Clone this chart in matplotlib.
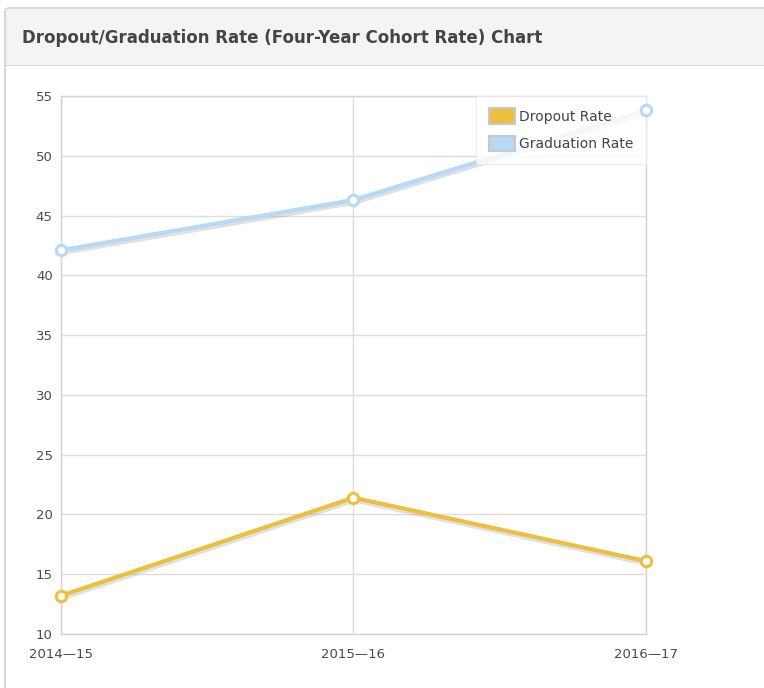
import matplotlib
matplotlib.use("Agg")
import matplotlib.pyplot as plt
import matplotlib.patheffects as pe
from matplotlib.patches import FancyBboxPatch, Rectangle
from matplotlib.lines import Line2D

categories = ["2014\u201415", "2015\u201416", "2016\u201417"]
dropout = [13.2, 21.4, 16.1]
graduation = [42.1, 46.3, 53.8]
series_names = ["Dropout Rate", "Graduation Rate"]
yticks = [10, 15, 20, 25, 30, 35, 40, 45, 50, 55]

W, H = 764, 688
fig = plt.figure(figsize=(W / 100, H / 100), dpi=100)
fig.patch.set_facecolor("white")

# panel frame
panel = FancyBboxPatch((5 / W, -0.05), 1.0, (688 - 8) / H + 0.05,
                       boxstyle="round,pad=0,rounding_size=0.006",
                       transform=fig.transFigure, facecolor="white",
                       edgecolor="#d0d0d0", linewidth=1.2, zorder=-2)
fig.patches.append(panel)
header = Rectangle((6 / W, (688 - 65) / H), 1.0, (65 - 9) / H,
                   transform=fig.transFigure, facecolor="#f4f4f4",
                   edgecolor="none", zorder=-1)
fig.patches.append(header)
fig.add_artist(Line2D([6 / W, 1], [(688 - 65) / H] * 2, transform=fig.transFigure,
                      color="#cfcfcf", linewidth=1.2, zorder=-1))
fig.text(22 / W, (688 - 38) / H, "Dropout/Graduation Rate (Four-Year Cohort Rate) Chart",
         fontsize=12, fontweight="bold", color="#444444", va="center", ha="left",
         family="DejaVu Sans")

ax = fig.add_axes([61 / W, (688 - 634) / H, (646 - 61) / W, (634 - 96) / H])
ax.set_zorder(3)
ax.patch.set_alpha(0)
x = list(range(len(categories)))
ax.set_xlim(0, len(categories) - 1)
ax.set_ylim(10, 55)
ax.set_yticks(yticks)
ax.set_xticks(x)
ax.set_xticklabels(categories)
ax.grid(True, color="#dddddd", linewidth=1)
ax.set_axisbelow(True)
for s in ax.spines.values():
    s.set_color("#d4d4d4")
    s.set_linewidth(1)
ax.tick_params(length=0, labelsize=9.5, colors="#4a4a4a", pad=6)
ax.tick_params(axis="x", pad=10)

shadow = [pe.SimpleLineShadow(offset=(0.5, -2), shadow_color="#999999", alpha=0.3),
          pe.Normal()]
colors = ["#ecbf3e", "#b5daf7"]
for vals, col, name in [(dropout, colors[0], series_names[0]),
                        (graduation, colors[1], series_names[1])]:
    ax.plot(x, vals, color=col, linewidth=3, label=name,
            path_effects=shadow, clip_on=False, zorder=3)
    ax.plot(x, vals, linestyle="none", marker="o", markersize=7.5,
            markerfacecolor="white", markeredgecolor=col, markeredgewidth=2.2,
            clip_on=False, zorder=6)

handles = [Rectangle((0, 0), 1, 1, facecolor=colors[0], edgecolor="#c8c8c8", linewidth=1.5),
           Rectangle((0, 0), 1, 1, facecolor=colors[1], edgecolor="#c8c8c8", linewidth=1.5)]
leg = ax.legend(handles, series_names, loc="upper right", bbox_to_anchor=(1.0, 1.0),
                fontsize=10, frameon=True, fancybox=False, framealpha=0.82,
                handlelength=1.9, handleheight=1.35, handletextpad=0.3,
                borderpad=0.9, labelspacing=0.85, borderaxespad=0.0)
leg.get_frame().set_edgecolor("#e8e8e8")
leg.get_frame().set_linewidth(0.8)
leg.set_zorder(5)
for t in leg.get_texts():
    t.set_color("#444444")

fig.savefig("out.png", dpi=100)
